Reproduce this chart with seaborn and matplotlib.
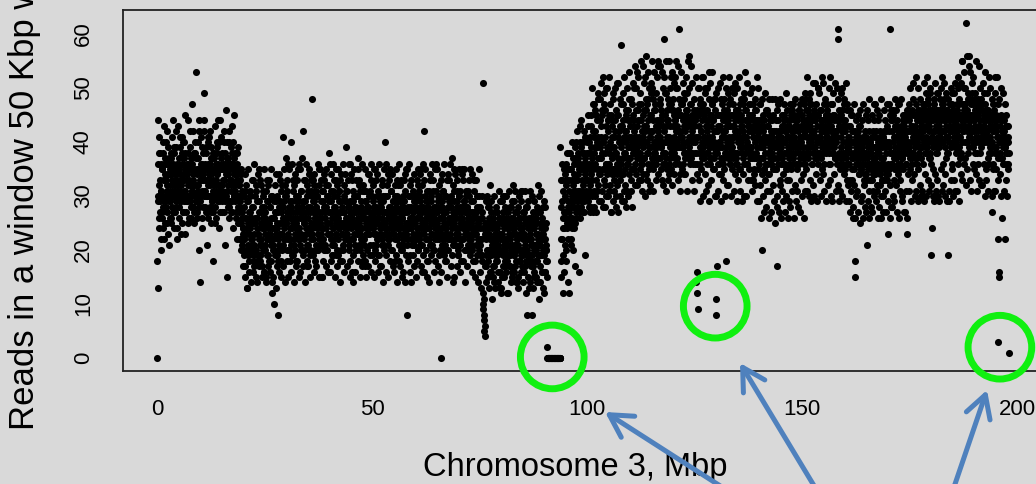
import numpy as np
import pandas as pd
import matplotlib
matplotlib.use('Agg')
import matplotlib.pyplot as plt
import seaborn as sns
from matplotlib.patches import FancyArrowPatch

# 読み数（50 Kbp 窓）。1 行 = 1 Mbp ぶんの偶数番目（または奇数番目）の窓 10 個
STEP = 0.1
ODD_SHIFT = 0.05

# 0.0 - 90.65 Mbp
left_start = 0.0
left_even = [
    "00 13 44 30 26 38 29 33 20 36", "31 27 35 24 40 33 22 36 29 34",
    "28 36 32 25 42 30 34 21 37 31", "35 29 38 26 33 41 30 27 36 32",
    "24 34 31 39 28 35 22 33 30 43", "37 30 26 34 41 29 32 36 25 38",
    "33 27 40 31 35 23 38 29 34 30", "29 44 32 36 26 33 39 30 35 28",
    "36 31 47 28 34 38 25 32 40 30", "32 53 29 35 27 37 31 20 42 34",
    "14 36 30 33 26 39 34 28 44 31", "49 31 35 27 38 30 21 33 36 40",
    "30 34 28 42 32 37 25 35 29 38", "18 33 37 30 43 28 35 31 26 39",
    "34 29 36 32 40 24 31 44 35 30", "31 38 27 35 30 42 33 21 36 29",
    "46 30 15 34 28 37 32 40 26 35", "33 27 39 31 43 29 36 24 34 30",
    "45 32 29 35 26 38 22 33 30 28", "30 25 33 22 28 35 20 27 31 24",
    "24 19 28 22 31 17 26 23 20 29", "13 25 21 27 18 30 24 20 26 22",
    "21 28 19 25 33 23 17 26 20 32", "26 20 24 29 18 23 27 22 35 19",
    "19 25 22 17 28 21 26 31 24 16", "23 27 20 25 15 29 22 24 19 32",
    "25 18 28 23 26 21 30 12 24 22", "21 26 24 10 27 19 23 29 25 17",
    "24 08 22 28 20 25 33 23 18 27", "28 23 26 21 41 24 29 22 32 25",
    "25 31 20 27 23 36 22 28 18 26", "22 27 40 24 29 19 26 33 21 25",
    "27 23 30 25 18 28 24 35 22 29", "24 36 21 26 31 23 28 20 27 42",
    "29 25 22 33 26 20 27 24 30 17", "26 21 28 24 34 27 19 25 31 23",
    "23 48 27 22 29 25 32 20 26 28", "28 24 20 30 25 23 27 35 21 26",
    "25 29 23 27 15 31 24 22 28 33", "21 26 32 24 28 20 25 30 23 27",
    "27 23 25 36 22 29 26 19 31 24", "24 30 21 26 28 23 33 25 20 27",
    "26 22 29 24 31 27 18 25 34 23", "23 28 25 20 27 32 24 29 22 26",
    "29 24 31 26 22 25 28 21 36 27", "22 27 24 33 26 19 29 25 23 30",
    "28 25 20 27 24 30 23 37 26 21", "25 31 27 23 28 22 26 24 32 18",
    "27 22 26 29 17 25 31 23 28 24", "24 28 23 26 30 27 21 25 33 26",
    "26 21 29 24 27 23 35 20 25 28", "23 27 25 31 22 26 19 28 24 30",
    "28 24 32 22 26 29 25 21 27 23", "25 40 23 27 24 30 21 26 34 22",
    "22 26 28 24 31 25 20 27 23 29", "27 23 25 30 18 26 28 22 33 24",
    "24 29 21 27 25 32 23 26 20 28", "26 22 28 24 29 21 27 34 25 23",
    "23 27 08 25 22 28 24 30 26 19", "28 24 26 21 27 23 31 25 29 22",
    "25 30 23 28 24 26 20 32 22 27", "22 26 29 35 23 27 25 21 28 24",
    "42 23 27 25 30 22 26 24 18 29", "26 28 24 22 27 33 23 29 25 21",
    "23 25 31 26 20 28 24 22 36 27", "27 22 25 29 24 19 30 26 23 28",
    "24 00 28 23 26 31 22 27 25 20", "21 27 24 30 25 23 28 22 26 33",
    "28 23 26 22 29 25 37 24 21 27", "25 29 22 27 23 26 24 31 28 19",
    "23 26 30 24 28 21 25 27 22 35", "26 22 25 29 24 27 20 23 31 25",
    "24 28 23 26 21 30 25 22 27 24", "22 25 27 20 29 24 26 33 23 18",
    "27 23 21 26 24 28 22 25 30 20", "21 24 19 26 22 18 27 51 10 09",
    "07 05 04 23 19 22 17 25 20 28", "18 23 20 26 16 22 29 19 24 21",
    "22 17 25 20 14 23 19 27 21 18", "19 24 21 16 26 20 23 13 22 25",
    "23 20 15 22 27 19 24 21 17 30", "20 26 22 18 24 12 21 25 19 23",
    "17 22 25 20 28 21 16 23 26 19", "24 19 21 27 18 23 20 14 22 25",
    "21 25 18 23 20 26 31 19 24 17", "19 22 27 16 23 21 25 18 20 28",
    "08 20 24 18 22 13 26 19 23 21", "22 08 19 25 17 21 24 15 20 26",
    "18 23 20 14 25 19 22 27 11 21", "21 17 24 19 22 26 16 20 23 12",
    "19 22 16 24 20 21 18",
]
left_odd = [
    "18 29 36 41 24 32 27 38 31 22", "35 26 30 38 28 43 33 25 37 30",
    "33 40 27 31 36 23 39 29 34 26", "30 37 25 34 28 32 44 35 27 39",
    "38 27 33 29 42 31 36 24 32 35", "28 35 39 31 23 34 30 41 33 27",
    "40 33 29 37 31 45 27 35 30 36", "34 25 38 30 35 29 42 32 26 37",
    "31 36 28 42 33 27 35 30 38 29", "37 29 34 26 40 32 44 35 28 33",
    "29 35 41 31 36 24 33 38 30 42", "36 28 33 39 30 35 27 41 32 26",
    "33 41 30 36 27 34 39 29 37 31", "27 35 32 38 30 25 36 33 40 34",
    "38 31 44 29 35 32 27 37 30 41", "32 29 36 33 40 27 35 30 38 34",
    "35 40 31 37 29 34 42 28 33 36", "29 36 33 27 38 32 35 40 30 37",
    "31 38 27 34 30 36 33 25 39 32", "27 32 22 29 25 34 21 26 30 23",
    "17 30 22 34 15 26 20 32 24 13", "29 19 35 23 16 27 31 20 14 26",
    "22 33 16 28 21 36 18 25 30 15", "31 14 26 19 34 23 17 29 21 33",
    "18 27 32 15 24 30 20 35 16 28", "26 21 14 31 19 33 25 17 29 22",
    "33 16 28 22 35 18 30 14 26 20", "15 29 20 32 24 13 27 34 19 30",
    "27 18 34 21 16 29 23 31 15 25", "20 32 17 28 35 22 14 30 26 37",
    "30 18 33 22 27 15 35 20 29 24", "16 28 21 36 19 31 25 14 32 22",
    "34 20 29 17 26 33 18 30 23 15", "22 35 16 27 31 20 28 37 17 26",
    "19 25 33 14 29 23 36 21 32 18", "31 17 24 35 20 28 15 33 22 30",
    "24 33 19 29 16 34 26 18 31 21", "17 30 27 20 36 22 32 15 25 35",
    "33 21 15 31 24 18 29 34 20 27", "20 28 35 17 30 25 16 32 23 38",
    "29 16 23 34 18 31 21 27 36 19", "22 33 28 15 26 35 19 30 17 32",
    "35 19 31 24 14 29 33 20 27 23", "18 27 21 36 30 16 25 34 22 39",
    "31 23 17 28 33 20 36 18 29 15", "25 34 29 16 22 31 14 27 35 21",
    "16 28 33 20 30 24 18 35 23 32", "33 20 15 29 26 36 22 17 31 19",
    "21 31 27 18 35 15 29 24 20 34", "28 17 34 23 19 31 25 36 16 30",
    "19 32 24 15 28 35 18 26 33 21", "34 22 30 19 16 27 36 23 17 29",
    "17 29 21 33 25 14 30 20 35 24", "30 19 36 16 27 32 22 15 28 33",
    "23 35 18 31 20 26 34 17 24 29", "16 27 32 22 35 19 28 30 14 25",
    "32 18 25 36 17 29 21 33 26 15", "20 30 16 27 33 23 14 31 19 35",
    "35 21 28 18 24 36 30 16 32 22", "14 33 25 30 19 27 17 34 21 28",
    "29 22 15 33 26 18 35 20 31 24", "21 34 30 17 28 32 16 25 36 19",
    "33 16 24 35 20 29 22 31 15 27", "18 31 27 14 34 21 30 19 26 36",
    "27 20 33 25 16 35 18 28 23 31", "35 24 17 30 22 14 32 26 20 33",
    "16 29 34 21 31 27 19 36 24 18", "30 18 23 33 15 25 34 20 29 22",
    "22 36 28 17 30 19 26 32 14 35", "31 15 21 34 27 24 17 29 33 20",
    "19 30 35 22 16 31 25 18 28 34", "33 24 18 29 35 20 14 30 23 27",
    "17 28 31 20 26 33 22 35 19 25", "29 21 16 34 23 18 31 27 33 15",
    "24 33 27 19 30 14 25 21 35 28", "16 28 22 13 30 19 26 24 12 11",
    "08 06 25 17 29 14 23 30 20 15", "24 13 28 19 32 16 22 27 11 25",
    "15 26 21 30 17 24 13 28 22 19", "27 18 14 25 31 20 26 16 29 12",
    "13 29 23 17 26 30 15 22 28 18", "25 16 30 21 12 27 19 31 17 24",
    "19 28 14 26 23 15 29 20 32 16", "29 21 17 31 14 25 22 27 13 28",
    "15 26 30 18 24 29 16 23 20 31", "23 14 27 20 31 17 26 12 28 22",
    "28 19 15 29 22 25 14 31 18 26", "17 30 24 13 27 20 29 16 25 21",
    "26 15 21 28 18 32 23 14 30 19", "14 27 31 19 25 16 28 22 13 29",
    "22 16 28 18 25 20 15",
]

# 動原体付近 90.7 - 93.75 Mbp
centro_start = 90.7
centro_even = ["02 00 00 00 00 00 00 00 00 00 00 00 00 00 00 00",
               "00 00 00 00 00 00 00 00 00 00 00 00 00 00 00"]
centro_odd = ["00 00 00 00 00 00 00 00 00 00 00 00 00 00 00 00",
              "00 00 00 00 00 00 00 00 00 00 00 00 00 00 00"]

# 93.8 - 198.1 Mbp
right_start = 93.8
right_even = [
    "39 15 28 22 33 12 26 19 35 24", "30 21 36 18 27 33 25 14 29 38",
    "12 31 26 35 22 29 40 24 33 20", "28 36 31 25 39 17 33 27 42 30",
    "34 29 37 16 31 40 26 35 30 44", "31 38 27 35 42 29 33 19 37 30",
    "36 33 40 29 38 45 31 35 27 41", "39 34 43 30 37 47 35 41 28 38",
    "42 36 33 45 39 31 40 37 48 35", "37 44 39 34 41 29 46 38 35 52",
    "40 35 47 38 32 43 36 50 39 34", "36 42 38 31 45 40 35 39 27 44",
    "41 37 49 35 39 33 44 38 42 30", "38 45 34 41 37 51 36 40 33 43",
    "58 39 36 43 40 34 47 38 41 29", "42 35 40 46 37 31 39 44 36 53",
    "37 43 39 33 48 41 35 40 45 38", "44 38 42 36 40 50 34 43 39 32",
    "40 46 37 41 35 44 38 47 33 42", "36 41 45 39 43 37 52 40 34 46",
    "43 38 40 48 36 42 39 31 45 41", "39 45 37 42 50 35 44 40 38 47",
    "46 40 43 36 41 39 55 42 37 44", "41 37 48 44 39 46 40 33 43 38",
    "38 59 42 40 45 37 49 41 44 35", "44 41 36 47 39 43 38 52 40 46",
    "40 48 43 38 45 41 36 44 50 39", "37 43 40 46 42 61 39 45 41 34",
    "45 39 47 41 36 44 40 48 38 43", "42 46 38 44 40 49 37 43 56 41",
    "39 44 41 37 47 42 45 38 43 40", "43 46 40 38 44 41 14 36 12 09",
    "41 45 38 43 48 36 42 39 46 40", "44 39 47 41 37 45 40 50 38 43",
    "40 46 42 38 44 41 53 39 45 36", "43 37 41 47 39 44 40 42 35 48",
    "38 11 08 17 42 45 39 43 40 36", "45 40 43 37 48 41 39 44 36 42",
    "41 46 38 42 39 45 18 40 43 37", "44 39 41 47 36 43 40 38 45 50",
    "39 43 37 45 41 38 44 42 36 46", "42 38 46 40 44 35 41 39 47 43",
    "40 45 39 43 37 42 48 36 41 44", "46 41 38 44 40 36 43 39 45 42",
    "38 43 47 39 42 45 37 41 33 44", "43 37 40 46 41 38 44 52 39 35",
    "41 44 36 42 39 47 40 37 43 20", "37 42 39 35 44 40 38 46 41 36",
    "40 36 43 38 41 34 45 39 37 42", "36 41 38 44 35 40 37 42 39 48",
    "39 35 42 37 17 41 36 44 38 40", "42 38 36 41 39 45 37 40 34 43",
    "38 44 40 36 42 38 46 35 41 39", "41 37 43 39 36 44 40 38 47 42",
    "37 42 39 45 41 38 43 36 40 44", "43 39 36 42 40 46 38 41 37 45",
    "40 45 41 38 44 39 43 47 42 36", "44 38 46 41 39 43 37 45 40 48",
    "39 43 40 47 42 36 44 41 38 46", "42 37 44 39 45 41 38 43 50 40",
    "45 41 38 43 40 46 42 37 44 39", "38 44 42 36 47 40 39 45 41 43",
    "41 39 45 42 38 44 36 43 40 47", "43 47 40 38 45 41 44 39 42 37",
    "40 42 37 44 41 61 59 38 43 45", "36 43 41 39 46 42 38 44 40 35",
    "42 38 44 40 37 43 39 47 41 36", "39 41 36 43 40 38 45 37 42 33",
    "37 40 38 35 42 18 15 39 36 41", "40 36 42 38 34 41 37 43 35 39",
    "35 39 37 41 36 33 40 38 34 42", "38 34 21 40 37 35 39 36 42 33",
    "36 40 35 38 33 41 37 34 39 44", "34 37 41 36 39 35 38 32 40 36",
    "39 35 38 42 34 37 40 36 33 41", "37 41 36 33 39 35 38 42 34 40",
    "40 36 23 39 35 42 38 61 36 44", "38 42 36 40 45 37 41 35 39 43",
    "41 37 44 38 36 42 39 47 40 35", "36 40 38 43 41 37 45 39 42 38",
    "43 39 41 36 44 23 38 42 40 46", "39 44 37 42 38 45 40 36 43 41",
    "42 38 45 40 43 39 47 41 37 44", "40 46 41 38 44 42 39 45 43 37",
    "44 41 39 47 42 40 45 38 46 43", "41 45 43 39 48 44 40 42 37 46",
    "38 19 44 41 24 45 42 39 47 40", "45 42 40 46 43 38 44 49 41 39",
    "43 39 46 41 44 50 40 45 42 47", "40 44 42 48 39 45 43 41 46 38",
    "46 41 19 43 40 47 44 42 39 45", "42 47 44 40 46 41 49 43 45 38",
    "44 40 46 42 52 43 41 47 39 45", "41 45 43 55 44 40 47 42 46 50",
    "47 43 40 45 62 46 42 44 48 41", "43 56 45 41 47 44 49 42 45 39",
    "40 44 42 46 43 48 41 45 38 47", "45 42 47 43 40 46 44 39 48 41",
    "42 46 41 44 49 40 43 47 42 45", "44 40 45 42 46 41 38 44 40 43",
    "41 45 39 43 40 47 42 36 44 39", "43 38 42 45 39 41 44 37 03 16",
    "15 41 43 38 40 45 42 37 44 39", "42 40 44 22 41 39 43 38 40 36",
    "40 36 43 01",
]
right_odd = [
    "22 33 18 29 36 24 31 16 27 34", "26 35 20 32 24 38 28 22 35 27",
    "33 25 38 28 21 35 30 26 37 32", "24 34 29 37 31 26 40 33 28 36",
    "38 31 27 35 43 30 36 28 39 33", "29 36 40 32 27 38 34 41 31 36",
    "35 30 38 43 33 28 40 36 32 38", "28 45 33 50 36 27 42 31 47 39",
    "46 30 39 27 44 35 49 32 41 29", "34 48 29 43 37 51 31 45 28 40",
    "49 33 41 28 46 36 30 50 35 44", "30 44 36 52 32 47 39 27 45 34",
    "43 29 48 35 41 31 50 38 28 46", "36 51 32 45 27 42 35 48 40 30",
    "47 34 40 29 49 37 44 31 52 38", "32 45 28 42 36 50 30 46 34 41",
    "48 37 44 31 39 28 47 35 43 51", "35 50 39 54 32 46 41 37 53 44",
    "52 38 47 33 49 40 55 36 44 31", "40 54 34 46 37 51 42 30 48 56",
    "33 47 53 38 44 35 50 41 32 49", "51 36 42 55 31 48 37 46 53 39",
    "38 49 33 44 52 40 34 54 43 47", "54 41 47 35 39 53 45 32 50 36",
    "36 52 38 49 43 31 55 40 46 33", "48 34 55 41 37 50 35 47 39 53",
    "32 46 40 51 34 44 52 37 55 42", "50 39 45 33 54 36 48 42 31 47",
    "41 53 35 47 39 51 43 34 49 37", "34 45 52 40 31 46 38 55 44 50",
    "47 36 43 54 38 33 51 41 36 45", "31 48 36 44 52 38 16 46 34 50",
    "45 33 50 39 29 47 42 35 52 37", "38 52 30 46 41 34 49 31 44 40",
    "50 36 43 32 48 39 29 51 37 45", "33 47 40 53 35 44 37 48 30 42",
    "46 30 49 38 42 31 50 36 45 34", "39 51 34 45 29 47 41 33 52 37",
    "48 35 44 30 50 38 46 32 43 49", "32 43 52 39 36 48 30 45 41 35",
    "47 38 31 49 43 34 51 37 46 29", "36 50 45 33 40 52 35 42 31 48",
    "44 29 38 47 34 41 49 30 53 39", "30 46 41 36 51 33 44 39 35 47",
    "49 37 33 45 38 50 31 47 42 34", "35 44 48 32 46 37 43 29 50 41",
    "42 29 37 47 32 44 26 39 34 48", "30 45 35 27 41 33 49 36 28 43",
    "46 31 40 34 48 26 38 44 31 36", "27 42 48 32 37 45 29 40 35 25",
    "44 35 28 46 30 39 47 27 42 33", "32 48 38 26 43 31 36 45 29 47",
    "45 27 42 35 49 30 44 33 38 26", "29 41 33 47 28 45 35 42 31 46",
    "47 36 26 40 44 32 48 29 43 35", "31 45 39 28 46 36 27 47 33 41",
    "43 30 48 34 37 26 42 36 49 31", "35 48 31 44 52 38 46 30 41 49",
    "47 33 42 29 45 36 51 39 32 44", "30 45 51 37 34 47 40 29 50 36",
    "49 38 33 46 41 30 44 52 35 42", "34 51 40 31 48 43 29 45 38 47",
    "46 32 44 50 36 39 52 33 42 30", "38 47 29 41 49 34 45 37 51 40",
    "42 31 50 36 44 32 48 29 46 35", "31 49 37 45 30 50 36 43 34 47",
    "48 35 42 29 51 38 33 46 40 32", "29 43 33 46 27 40 31 45 35 26",
    "42 28 47 32 38 26 44 30 41 37", "31 45 27 39 43 34 25 46 29 40",
    "44 30 38 26 47 32 41 28 36 45", "27 41 46 33 29 44 31 48 26 38",
    "40 33 28 45 36 27 42 31 47 30", "34 47 39 29 42 31 46 26 38 44",
    "45 28 32 41 26 48 30 39 33 27", "30 42 46 35 31 44 27 40 47 33",
    "43 29 34 47 40 26 45 32 28 46", "28 44 38 30 46 33 29 48 35 41",
    "46 32 27 43 34 47 38 26 42 31", "33 48 41 29 37 30 44 35 27 45",
    "40 27 45 36 31 46 26 42 34 38", "31 47 35 50 29 43 38 46 33 51",
    "48 34 42 30 45 37 52 31 40 36", "35 50 29 46 39 32 48 41 30 44",
    "46 31 44 36 51 29 40 47 34 49", "30 45 38 52 33 47 31 43 50 37",
    "49 36 32 41 46 30 44 35 48 29", "34 51 45 31 38 49 33 46 30 42",
    "45 29 40 48 35 42 52 31 47 36", "32 46 51 34 44 30 37 49 41 29",
    "48 38 31 45 29 47 42 33 50 36", "35 49 43 30 46 33 51 39 31 44",
    "42 31 47 36 50 39 29 48 37 45", "34 51 38 55 33 47 42 36 53 44",
    "50 37 46 32 56 40 35 49 38 54", "39 53 33 48 42 31 51 45 36 47",
    "52 35 44 38 49 34 55 40 31 46", "36 48 54 33 43 50 38 32 47 41",
    "47 32 40 51 36 45 30 53 42 35", "33 46 49 37 31 52 44 36 50 39",
    "45 38 30 27 48 35 42 31 46 52", "31 49 43 35 52 38 33 22 47 40",
    "48 34 37 50 30 44 26 41 36 49", "36 42 31 47 39 33 45 38 30 43",
    "41 35 38",
]

xticks = [0, 50, 100, 150, 200]
yticks = [0, 10, 20, 30, 40, 50, 60]

# 緑の丸（注目箇所）
circle_x = [91.9, 129.8, 196.0]
circle_y = [0.2, 9.6, 2.0]

BG = '#d9d9d9'


def rows_to_points(rows, start):
    """行の文字列を窓ごとの (x, y) に展開する"""
    ys = [int(v) for row in rows for v in row.split()]
    xs = start + STEP * np.arange(len(ys))
    return xs, ys


parts = [rows_to_points(left_even, left_start),
         rows_to_points(left_odd, left_start + ODD_SHIFT),
         rows_to_points(centro_even, centro_start),
         rows_to_points(centro_odd, centro_start + ODD_SHIFT),
         rows_to_points(right_even, right_start),
         rows_to_points(right_odd, right_start + ODD_SHIFT)]
df = pd.DataFrame({
    'pos': np.concatenate([p[0] for p in parts]),
    'reads': np.concatenate([p[1] for p in parts]),
})

sns.set_style('white')
plt.rcParams['font.family'] = ['Liberation Sans', 'DejaVu Sans']
plt.rcParams['text.color'] = 'black'
plt.rcParams['xtick.color'] = 'black'
plt.rcParams['ytick.color'] = 'black'

fig = plt.figure(figsize=(10.36, 4.84), dpi=100, facecolor=BG)
ax = fig.add_axes([123 / 1036, 1 - 371.4 / 484, 920 / 1036, 361.6 / 484])
ax.set_facecolor(BG)

sns.scatterplot(data=df, x='pos', y='reads', color='black', s=26,
                linewidth=0, legend=False, ax=ax)

# R 風に範囲を 4% 広げる
xr = df['pos'].max() - df['pos'].min()
yr = df['reads'].max() - df['reads'].min()
ax.set_xlim(df['pos'].min() - 0.04 * xr, df['pos'].max() + 0.04 * xr)
ax.set_ylim(df['reads'].min() - 0.04 * yr, df['reads'].max() + 0.04 * yr)

ax.set_xticks(xticks)
ax.set_yticks(yticks)
ax.set_xlabel('')
ax.set_ylabel('')
ax.tick_params(axis='both', length=10, width=1.0, color='black',
               labelcolor='black', labelsize=16, direction='out')
ax.tick_params(axis='x', pad=10)
ax.tick_params(axis='y', pad=11, labelrotation=90)
for lab in ax.get_yticklabels():
    lab.set_va('center')
for side in ['left', 'top', 'bottom', 'right']:
    ax.spines[side].set_color('#222222')
    ax.spines[side].set_linewidth(1.3)

ax.scatter(circle_x, circle_y, s=2100, facecolors='none', edgecolors='#10f010',
           linewidths=5, clip_on=False, zorder=5)

fig.text(575 / 1036, 1 - 476 / 484, 'Chromosome 3, Mbp', ha='center',
         va='baseline', fontsize=23.5, color='black')
# 元のスライドでも上端で切れている
fig.text(25 / 1036, 1 - 430 / 484, 'Reads in a window 50 Kbp wide',
         rotation=90, ha='center', va='bottom', fontsize=25, color='black')

# 下から伸びる青い矢印（スライド上の注記）
arrows = [((725, 489), (605, 412)), ((816, 489), (740, 363)),
          ((953, 490), (987, 390))]
for tail, tip in arrows:
    arr = FancyArrowPatch((tail[0] / 1036, 1 - tail[1] / 484),
                          (tip[0] / 1036, 1 - tip[1] / 484),
                          transform=fig.transFigure,
                          arrowstyle='->,head_length=0.8,head_width=0.45',
                          mutation_scale=20, color='#4f81bd', lw=3.6,
                          capstyle='round', joinstyle='round',
                          shrinkA=0, shrinkB=0, zorder=10)
    fig.add_artist(arr)

fig.savefig('out.png', dpi=100, facecolor=BG)
